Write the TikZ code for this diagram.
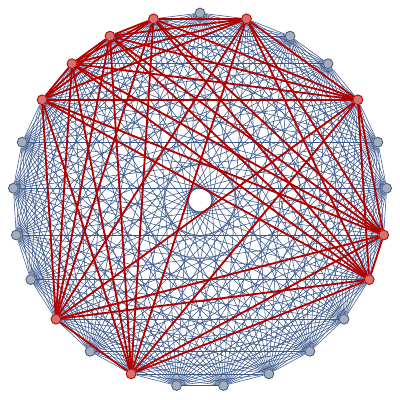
\documentclass[tikz,border=0pt]{standalone}
\usepackage{xcolor}
\usepackage{tikz}
\usetikzlibrary{backgrounds}
\definecolor{edgeblue}{RGB}{58,88,140}
\definecolor{edgered}{RGB}{178,0,0}
\definecolor{vtxfill}{RGB}{160,174,198}
\definecolor{vtxline}{RGB}{80,88,104}
\definecolor{cliquefill}{RGB}{216,112,112}

\begin{document}
\begin{tikzpicture}
  \tikzstyle{vtx}=[circle, draw=vtxline, fill=vtxfill, line width=0.6pt, minimum size=7pt, inner sep=0pt]
  \tikzstyle{cvtx}=[vtx, draw=edgered, fill=cliquefill]
  \tikzstyle{plain}=[edgeblue, line width=0.4pt]
  \tikzstyle{clique}=[edgered, line width=1.3pt]
  \useasboundingbox (-5,-5) rectangle (5,5);
  % vertices of K_25, clique ones in red
  \foreach \k in {0,2,3,5,6,9,10,11,12,13,15,17,18,19,20}
    \node[vtx] (v\k) at ({90-14.4*\k}:4.675) {};
  \foreach \k in {1,4,7,8,14,16,21,22,23,24}
    \node[cvtx] (v\k) at ({90-14.4*\k}:4.675) {};
  \begin{scope}[on background layer]
    % all edges
    \foreach \a in {0,...,23} {
      \pgfmathtruncatemacro{\first}{\a+1}
      \foreach \b in {\first,...,24} {
        \draw[plain] (v\a) -- (v\b);
      }
    }
    % clique edges
    \foreach \a [count=\i] in {1,4,7,8,14,16,21,22,23,24} {
      \foreach \b [count=\j] in {1,4,7,8,14,16,21,22,23,24} {
        \ifnum\j>\i\relax \draw[clique] (v\a) -- (v\b);\fi
      }
    }
  \end{scope}
\end{tikzpicture}
\end{document}
